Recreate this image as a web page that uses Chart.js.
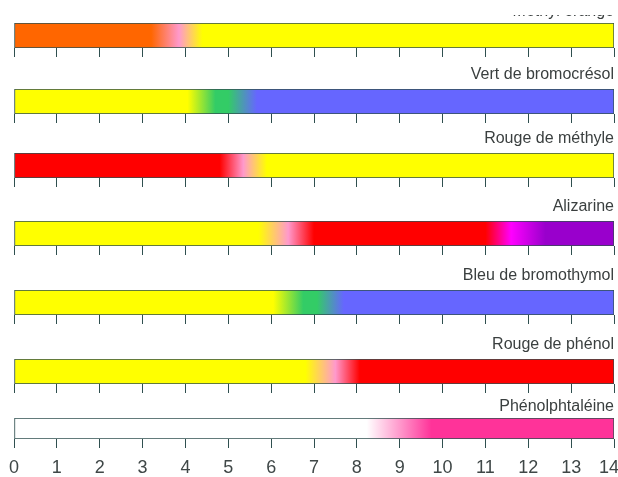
<!DOCTYPE html>
<html>
<head>
<meta charset="utf-8">
<title>Indicateurs colorés</title>
<script src="https://cdn.jsdelivr.net/npm/chart.js@4.4.1/dist/chart.umd.min.js"></script>
<style>
	body { margin: 0; background: #fff; overflow: hidden; }
	#page { position: relative; width: 618px; height: 477px; overflow: hidden; }
	.box, .clip { position: absolute; left: 0; width: 618px; }
	.clip { overflow: hidden; }
</style>
</head>
<body>
<div id="page"></div>
<script>
// indicator names, top to bottom
var names = ["Méthyl orange", "Vert de bromocrésol", "Rouge de méthyle", "Alizarine",
	"Bleu de bromothymol", "Rouge de phénol", "Phénolphtaléine"];

// pH where each colour stop sits, and the colour at that stop
var moStops = [0, 3.2, 3.85, 4.4, 14];
var moColors = ["#FF6600", "#FF6600", "#FF99CC", "#FFFF00", "#FFFF00"];
var bcgStops = [0, 4.05, 4.7, 5.0, 5.67, 14];
var bcgColors = ["#FFFF00", "#FFFF00", "#33CC66", "#33CC66", "#6666FF", "#6666FF"];
var mrStops = [0, 4.8, 5.35, 5.9, 14];
var mrColors = ["#FF0000", "#FF0000", "#FF99CC", "#FFFF00", "#FFFF00"];
var alzStops = [0, 5.7, 6.4, 7.0, 11.0, 11.6, 12.4, 14];
var alzColors = ["#FFFF00", "#FFFF00", "#FF99CC", "#FF0000", "#FF0000", "#FF00FF", "#9900CC", "#9900CC"];
var bbStops = [0, 6.05, 6.75, 7.07, 7.7, 14];
var bbColors = ["#FFFF00", "#FFFF00", "#33CC66", "#33CC66", "#6666FF", "#6666FF"];
var prStops = [0, 6.8, 7.5, 8.07, 14];
var prColors = ["#FFFF00", "#FFFF00", "#FF99CC", "#FF0000", "#FF0000"];
var ppStops = [0, 8.23, 9.0, 9.74, 14];
var ppColors = ["#FFFFFF", "#FFFFFF", "#FF99CC", "#FF3399", "#FF3399"];

var allStops = [moStops, bcgStops, mrStops, alzStops, bbStops, prStops, ppStops];
var allColors = [moColors, bcgColors, mrColors, alzColors, bbColors, prColors, ppColors];
var phMin = 0, phMax = 14;

// layout: top of each bar in the page, and space kept above it for the label
var barTop = [23, 89, 153, 221, 290, 359, 418];
var titleGap = [21, 24, 24, 24, 24, 24, 21];
var barH = 25;
var line = "#2F4F4F";

function barFill(s, c) {
	return function(ctx) {
		var chart = ctx.chart, x = chart.scales.x;
		if (!chart.chartArea || !x) return c[0];
		var p0 = x.getPixelForValue(s[0]), p1 = x.getPixelForValue(s[s.length - 1]);
		var g = chart.ctx.createLinearGradient(p0, 0, p1, 0);
		s.forEach((v, k) => g.addColorStop((x.getPixelForValue(v) - p0) / (p1 - p0), c[k]));
		return g;
	};
}

function makeChart(i) {
	var first = i == 0, last = i == names.length - 1;
	var titleH = titleGap[i];
	var axisH = last ? 9 + 11 + 18 : 9;
	var page = document.getElementById("page");

	var box = document.createElement("div");
	box.className = "box";
	box.style.height = (titleH + barH + axisH) + "px";
	if (first) {
		// top of the first label is cut off in the original
		var clip = document.createElement("div");
		clip.className = "clip";
		clip.style.top = "15px";
		clip.style.height = "60px";
		box.style.top = (barTop[i] - titleH - 15) + "px";
		clip.appendChild(box);
		page.appendChild(clip);
	} else {
		box.style.top = (barTop[i] - titleH) + "px";
		page.appendChild(box);
	}
	var cv = document.createElement("canvas");
	box.appendChild(cv);

	var s = allStops[i], c = allColors[i];
	return new Chart(cv.getContext("2d"), {
		type: "bar",
		data: {
			labels: [names[i]],
			datasets: [{
				data: [[s[0], s[s.length - 1]]],
				backgroundColor: barFill(s, c),
				borderColor: line,
				borderWidth: 1,
				borderSkipped: false,
				barPercentage: 1,
				categoryPercentage: 1
			}]
		},
		options: {
			indexAxis: "y",
			responsive: true,
			maintainAspectRatio: false,
			animation: false,
			layout: { padding: { left: 14, right: 4, top: 0, bottom: 0 } },
			plugins: {
				legend: { display: false },
				tooltip: { enabled: false },
				title: {
					display: true,
					text: names[i],
					align: "end",
					color: "#3a3f3f",
					font: { family: "'Liberation Sans', Arial, sans-serif", size: 16, weight: "normal", lineHeight: 1.2 },
					padding: { top: 0, bottom: titleH - 19.2 }
				}
			},
			scales: {
				x: {
					min: phMin,
					max: phMax,
					ticks: {
						display: last,
						stepSize: 1,
						autoSkip: false,
						maxRotation: 0,
						padding: 11,
						color: "#3f4747",
						font: { family: "'Liberation Sans', Arial, sans-serif", size: 18, lineHeight: 1 },
						callback: v => v == phMax ? v + "\u2007" : v
					},
					grid: { drawOnChartArea: false, tickLength: 9, color: line },
					border: { display: false },
					afterFit: function(sc) { sc.paddingLeft = 0; sc.paddingRight = 0; }
				},
				y: { display: false }
			}
		}
	});
}

var charts = names.map((n, i) => makeChart(i));
</script>
</body>
</html>
